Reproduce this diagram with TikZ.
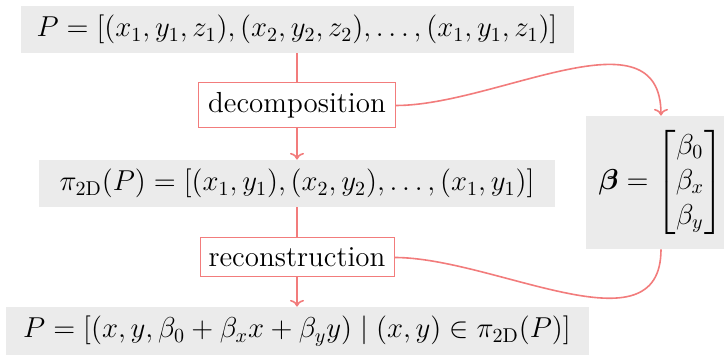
\documentclass[tikz,border=0pt]{standalone}
\usepackage{amsmath, amssymb, bm}
\usepackage{tikz}
\usetikzlibrary{arrows.meta,positioning}
\definecolor{linkred}{RGB}{242,124,124}
\definecolor{boxgray}{RGB}{235,235,235}

\begin{document}
\begin{tikzpicture}[x=0.5pt, y=-0.5pt, >=To,
    font=\fontsize{14.5}{17.5}\selectfont,
    data/.style={fill=boxgray, inner sep=0pt},
    stepbox/.style={draw=linkred, fill=white, line width=0.5pt, inner sep=0pt},
    link/.style={linkred, line width=0.8pt}]
  \useasboundingbox (0,0) rectangle (724,356);
  % point lists
  \node[data, minimum width=276.5pt, minimum height=23.5pt] (pts) at (297,29.5)
    {$P=[(x_1,y_1,z_1),(x_2,y_2,z_2),\ldots,(x_1,y_1,z_1)]$};
  \node[data, minimum width=258pt, minimum height=23.5pt] (proj) at (297,183.5)
    {$\pi_{\mathrm{2D}}(P)=[(x_1,y_1),(x_2,y_2),\ldots,(x_1,y_1)]$};
  \node[data, minimum width=291.5pt, minimum height=24pt] (rebuilt) at (297,331)
    {$P=[(x,y,\beta_0+\beta_x x+\beta_y y)\mid(x,y)\in\pi_{\mathrm{2D}}(P)]$};
  % plane coefficients
  \node[data, minimum width=75pt, minimum height=66.5pt] (beta) at (661,182.5)
    {$\bm{\beta}=\begin{bmatrix}\beta_0\\ \beta_x\\ \beta_y\end{bmatrix}$};
  % steps
  \node[stepbox, minimum width=98.5pt, minimum height=22.5pt] (decomp) at (297,105.5) {decomposition};
  \node[stepbox, minimum width=97pt, minimum height=19.5pt] (recon) at (297,257.5) {reconstruction};
  % connectors
  \draw[link] (pts) -- (decomp);
  \draw[link,->] (decomp) -- (proj);
  \draw[link] (proj) -- (recon);
  \draw[link,->] (recon) -- (rebuilt);
  \draw[link,->] (decomp.east) .. controls +(100,0) and +(0,-108) .. (beta.north);
  \draw[link] (recon.east) .. controls +(100,0) and +(0,105) .. (beta.south);
\end{tikzpicture}
\end{document}
